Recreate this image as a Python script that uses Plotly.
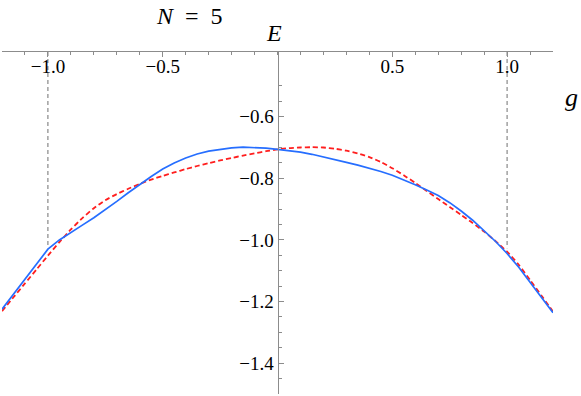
import plotly.graph_objects as go

# coupling g and energies E for the two curves
g = [-1.2, -1.15, -1.1, -1.05, -1.0, -0.95, -0.9, -0.85, -0.8, -0.75, -0.7, -0.65,
     -0.6, -0.55, -0.5, -0.45, -0.4, -0.35, -0.3, -0.25, -0.2, -0.15, -0.1, -0.05,
     0.0, 0.05, 0.1, 0.15, 0.2, 0.25, 0.3, 0.35, 0.4, 0.45, 0.5, 0.55, 0.6, 0.65,
     0.7, 0.75, 0.8, 0.85, 0.9, 0.95, 1.0, 1.05, 1.1, 1.15, 1.2]

E_blue = [-1.225, -1.176, -1.127, -1.078, -1.030, -1.000, -0.975, -0.952, -0.928,
          -0.902, -0.875, -0.847, -0.820, -0.794, -0.770, -0.750, -0.734, -0.721,
          -0.712, -0.706, -0.701, -0.699, -0.6995, -0.702, -0.706, -0.710, -0.715,
          -0.722, -0.730, -0.739, -0.748, -0.757, -0.767, -0.778, -0.790, -0.805,
          -0.821, -0.838, -0.856, -0.879, -0.906, -0.936, -0.969, -1.005, -1.044,
          -1.088, -1.137, -1.187, -1.236]

E_red = [-1.231, -1.186, -1.141, -1.096, -1.051, -1.007, -0.966, -0.929, -0.897,
         -0.871, -0.851, -0.834, -0.818, -0.804, -0.792, -0.781, -0.770, -0.760,
         -0.751, -0.742, -0.734, -0.726, -0.719, -0.712, -0.706, -0.702, -0.700,
         -0.699, -0.700, -0.704, -0.710, -0.719, -0.731, -0.747, -0.767, -0.790,
         -0.815, -0.841, -0.867, -0.893, -0.919, -0.945, -0.973, -1.004, -1.038,
         -1.080, -1.130, -1.181, -1.232]

# dashed markers at g = +-1
g_mark = [-1.0, 1.0]
E_mark_top = -0.39
E_mark = [-1.027, -1.027]

xticks = [-1.0, -0.5, 0.5, 1.0]
xticktext = ["\u22121.0", "\u22120.5", "0.5", "1.0"]
yticks = [-1.4, -1.2, -1.0, -0.8, -0.6]
yticktext = ["\u22121.4", "\u22121.2", "\u22121.0", "\u22120.8", "\u22120.6"]

serif = "Liberation Serif, Times New Roman, serif"
axcol = "#8c8c8c"
tickfont = dict(family=serif, size=19, color="black")

fig = go.Figure()

for gx, ey in zip(g_mark, E_mark):
    fig.add_trace(go.Scatter(
        x=[gx, gx], y=[E_mark_top, ey], mode="lines",
        line=dict(color="#707070", width=1, dash="4px,3px"),
        showlegend=False, hoverinfo="skip"))

fig.add_trace(go.Scatter(
    x=g, y=E_red, mode="lines", name="red",
    line=dict(color="rgb(255,30,30)", width=1.8, dash="5px,3px", shape="spline", smoothing=0.5),
    showlegend=False))

fig.add_trace(go.Scatter(
    x=g, y=E_blue, mode="lines", name="blue",
    line=dict(color="rgb(38,110,255)", width=1.7),
    showlegend=False))

fig.update_layout(
    width=581, height=396,
    margin=dict(l=2, r=28, t=52, b=2),
    paper_bgcolor="white", plot_bgcolor="white",
    font=dict(family=serif, size=19, color="black"),
    xaxis=dict(
        range=[-1.2, 1.2], side="top", automargin=False,
        showgrid=False, zeroline=False,
        showline=True, linecolor=axcol, linewidth=1,
        ticks="inside", ticklen=5, tickcolor=axcol,
        tickvals=xticks, ticktext=xticktext, tickfont=tickfont,
        ticklabelposition="inside", ticklabelstandoff=4,
        minor=dict(ticks="inside", ticklen=3, dtick=0.1, tick0=0, tickcolor=axcol),
    ),
    yaxis=dict(
        range=[-1.5, -0.39], automargin=False,
        anchor="free", position=0.5,
        showgrid=False, zeroline=False,
        showline=True, linecolor=axcol, linewidth=1,
        ticks="inside", ticklen=5, tickcolor=axcol,
        tickvals=yticks, ticktext=yticktext, tickfont=tickfont,
        minor=dict(ticks="inside", ticklen=3, dtick=0.05, tick0=0, tickcolor=axcol),
    ),
    annotations=[
        dict(text="<i>N</i>\u2002=\u20025", x=0.341, y=1.104, xref="paper", yref="paper",
             xanchor="center", yanchor="middle",
             showarrow=False, font=dict(family=serif, size=24)),
        dict(text="<i>E</i>", x=0, y=1.057, xref="x", yref="paper", xshift=-4,
             xanchor="center", yanchor="middle",
             showarrow=False, font=dict(family=serif, size=24)),
        dict(text="<i>g</i>", x=1.033, y=0.868, xref="paper", yref="paper",
             xanchor="center", yanchor="middle",
             showarrow=False, font=dict(family=serif, size=26)),
    ],
)

fig.write_html("out.html", config={"displayModeBar": False},
               post_script="document.body.style.margin='0';")
